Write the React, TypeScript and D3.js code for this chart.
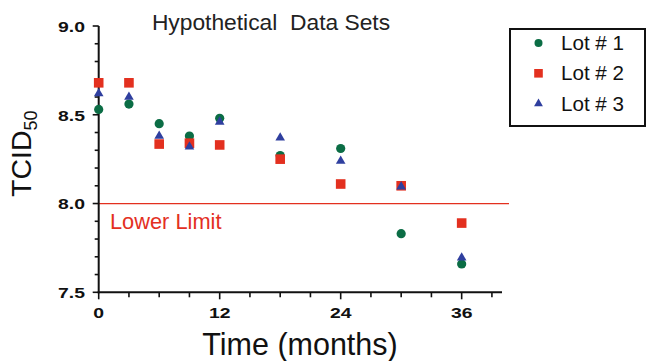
import React from "react";
import * as d3 from "d3";

const months = [0, 3, 6, 9, 12, 18, 24, 30, 36];
const lot1 = [8.53, 8.56, 8.45, 8.38, 8.48, 8.27, 8.31, 7.83, 7.66];
const lot2 = [8.68, 8.68, 8.335, 8.34, 8.33, 8.25, 8.11, 8.1, 7.89];
const lot3 = [8.62, 8.6, 8.38, 8.32, 8.46, 8.37, 8.24, 8.095, 7.695];
const seriesNames = ["Lot # 1", "Lot # 2", "Lot # 3"];
const xMajorTicks = [0, 12, 24, 36];
const yMajorTicks = [7.5, 8.0, 8.5, 9.0];
const lowerLimit = 8.0;

const GREEN = "#0b6d45";
const RED = "#e3301f";
const BLUE = "#2f3f9f";
const FONT = "Liberation Sans, Arial, Helvetica, sans-serif";

export default function App() {
  const x = d3.scaleLinear().domain([0, 40]).range([98.7, 502]);
  const y = d3.scaleLinear().domain([7.5, 9.0]).range([292.3, 26]);
  const xMinor = d3.range(0, 40, 3);
  const yMinor = d3.range(75, 91).map((v) => v / 10);

  const triPath = (size: number) => d3.symbol().type(d3.symbolTriangle).size(size)() || "";

  return (
    <svg
      width={646}
      height={361}
      style={{ position: "absolute", left: 0, top: 0, background: "#fff" }}
      fontFamily={FONT}
    >
      {/* Title */}
      <text x={271} y={29.5} fontSize={22.8} textAnchor="middle" fill="#222" style={{ whiteSpace: "pre" }}>
        {"Hypothetical  Data Sets"}
      </text>

      {/* Lower limit */}
      <line x1={x(0)} x2={509} y1={y(lowerLimit)} y2={y(lowerLimit)} stroke={RED} strokeWidth={1.3} />
      <text x={110} y={229} fontSize={21.8} fill={RED}>Lower Limit</text>

      {/* Y axis */}
      <line x1={x(0)} x2={x(0)} y1={y(9.0)} y2={y(7.5) + 1} stroke="#111" strokeWidth={2} />
      {yMinor.map((v) => {
        const major = yMajorTicks.some((m) => Math.abs(m - v) < 1e-6);
        return (
          <line key={"ym" + v} x1={x(0) - (major ? 6 : 4)} x2={x(0)} y1={y(v)} y2={y(v)} stroke="#111" strokeWidth={1.6} />
        );
      })}
      {yMajorTicks.map((v) => (
        <text
          key={"yl" + v}
          transform={`translate(85,${y(v) + 5.8}) scale(1.25,1)`}
          fontSize={15.5}
          fontWeight="bold"
          textAnchor="end"
          fill="#111"
        >
          {v.toFixed(1)}
        </text>
      ))}

      {/* X axis */}
      <line x1={x(0) - 1} x2={x(40)} y1={y(7.5)} y2={y(7.5)} stroke="#111" strokeWidth={2} />
      {xMinor.map((v) => {
        const major = xMajorTicks.includes(v);
        return (
          <line key={"xm" + v} x1={x(v)} x2={x(v)} y1={y(7.5)} y2={y(7.5) + (major ? 7 : 5)} stroke="#111" strokeWidth={1.6} />
        );
      })}
      {xMajorTicks.map((v) => (
        <text
          key={"xl" + v}
          transform={`translate(${x(v)},318) scale(1.25,1)`}
          fontSize={15.5}
          fontWeight="bold"
          textAnchor="middle"
          fill="#111"
        >
          {v}
        </text>
      ))}

      {/* Axis titles */}
      <text x={300} y={355} fontSize={30.5} textAnchor="middle" fill="#111">Time (months)</text>
      <text transform="translate(31,197) rotate(-90)" fontSize={28.5} textAnchor="start" fill="#111">
        TCID<tspan fontSize={18} dy={6}>50</tspan>
      </text>

      {/* Data */}
      {months.map((m, i) => (
        <circle key={"c" + i} cx={x(m)} cy={y(lot1[i])} r={4.6} fill={GREEN} />
      ))}
      {months.map((m, i) => (
        <rect key={"s" + i} x={x(m) - 4.8} y={y(lot2[i]) - 4.8} width={9.6} height={9.6} fill={RED} />
      ))}
      {months.map((m, i) => (
        <path key={"t" + i} d={triPath(40)} transform={`translate(${x(m)},${y(lot3[i])})`} fill={BLUE} />
      ))}

      {/* Legend */}
      <rect x={510} y={29} width={135} height={97} fill="#fff" stroke="#111" strokeWidth={2} />
      {seriesNames.map((name, i) => {
        const cy = 43 + i * 30.3;
        const cx = 538.5;
        return (
          <g key={name}>
            {i === 0 && <circle cx={cx} cy={cy} r={4} fill={GREEN} />}
            {i === 1 && <rect x={cx - 4.3} y={cy - 4.3} width={8.6} height={8.6} fill={RED} />}
            {i === 2 && <path d={triPath(34)} transform={`translate(${cx},${cy})`} fill={BLUE} />}
            <text x={561} y={cy + 7} fontSize={20.6} fill="#111">{name}</text>
          </g>
        );
      })}
    </svg>
  );
}
